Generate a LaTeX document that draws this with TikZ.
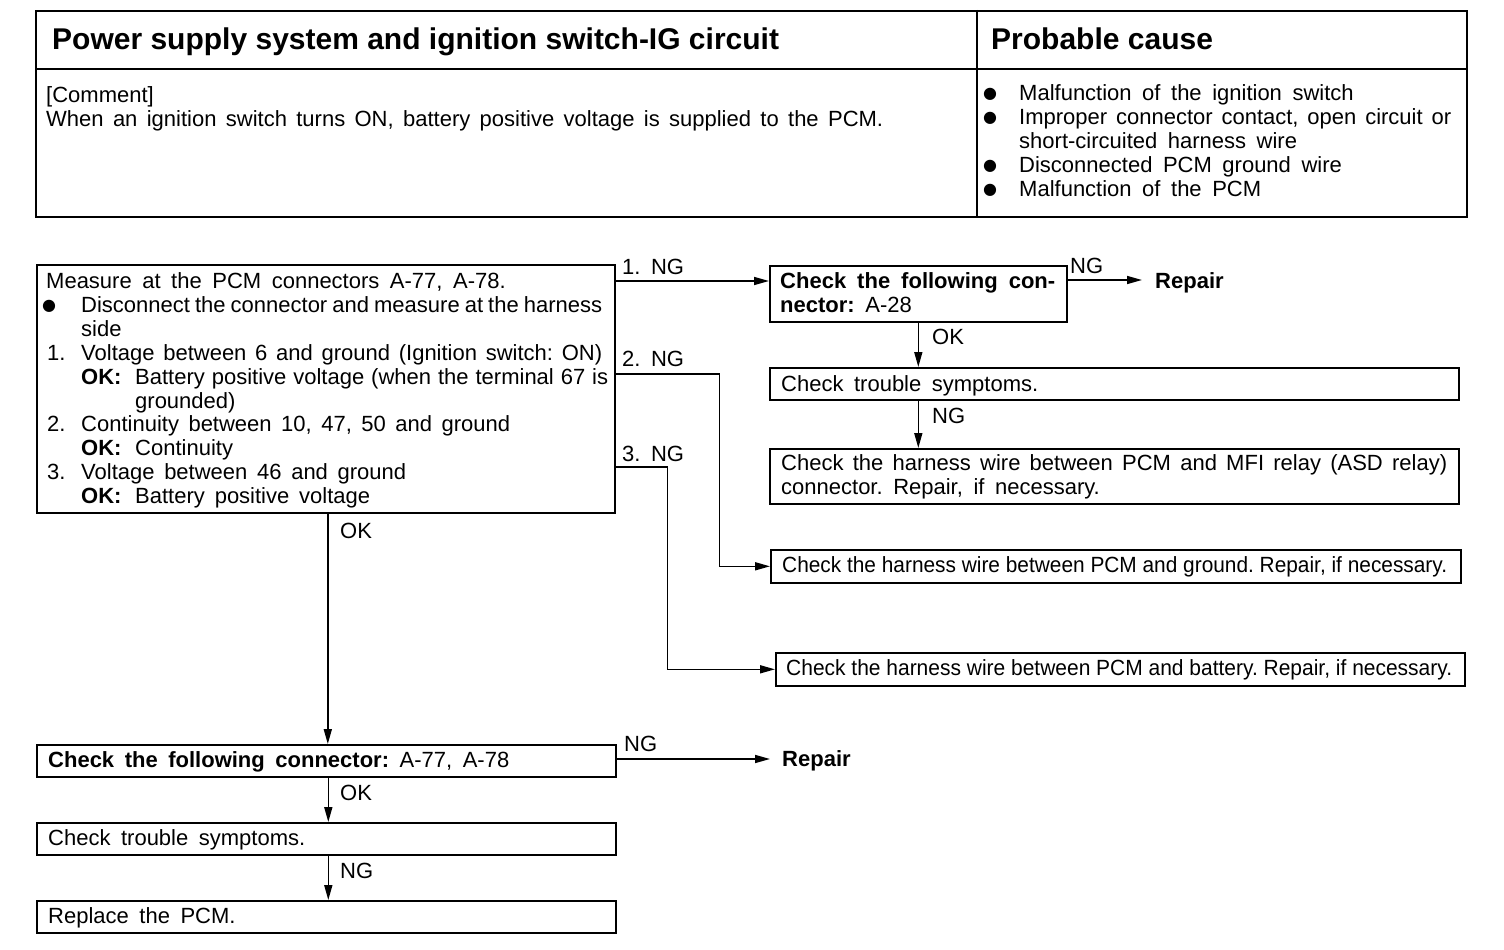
\documentclass[tikz,border=0pt]{standalone}
\usepackage{fontspec}
\setmainfont{Liberation Sans}
\newfontfamily\dejavu{DejaVu Sans}
\usetikzlibrary{arrows.meta,calc}
\frenchspacing
\newcommand{\jw}[2]{\makebox[#1pt][s]{\spaceskip=0.2em plus 3em\relax #2}}
\newcommand{\fw}[2]{\resizebox{#1pt}{\height}{\spaceskip=0pt\relax #2}}
\newcommand{\blt}{\raisebox{1.5pt}{\dejavu\fontsize{16}{16}\selectfont ●}}
\newcommand{\widesp}{\spaceskip=0.48em plus 0.4em minus 0.15em\relax}
\begin{document}
\begin{tikzpicture}[x=1pt,y=-1pt,
  box/.style={draw, line width=1.6pt, inner sep=0pt, anchor=north west},
  txt/.style={anchor=base west, inner sep=0pt, font=\fontsize{22}{24}\selectfont\widesp},
  btxt/.style={txt, font=\fontsize{22}{24}\selectfont\bfseries\widesp},
  ttl/.style={anchor=base west, inner sep=0pt, font=\fontsize{30}{32}\selectfont\bfseries},
  arr/.style={line width=1.6pt, -{Triangle[length=15pt,width=8pt]}},
  ln/.style={line width=1.6pt}]
\useasboundingbox (0,0) rectangle (1504,950);
\fill[white] (0,0) rectangle (1504,950);

% ---------- header table ----------
\node[box, line width=2.2pt, minimum width=1431pt, minimum height=206pt] (tab) at (35,10) {};
\draw[ln] (35,69) -- (1466,69);
\draw[ln] (977,10) -- (977,216);
\node[ttl] (title) at (52,50) {Power supply system and ignition switch-IG circuit};
\node[ttl] (pcause) at (991,50) {Probable cause};
\node[txt] (cm1) at (46,102) {{[}Comment{]}};
\node[txt] (cm2) at (46,126) {\jw{837}{When an ignition switch turns ON, battery positive voltage is supplied to the PCM.}};
\node[txt] (pc1) at (983,100) {\makebox[36pt][l]{\blt}Malfunction of the ignition switch};
\node[txt] (pc2) at (983,124) {\makebox[36pt][l]{\blt}\jw{432}{Improper connector contact, open circuit or}};
\node[txt] (pc3) at (1019,148) {short-circuited harness wire};
\node[txt] (pc4) at (983,172) {\makebox[36pt][l]{\blt}Disconnected PCM ground wire};
\node[txt] (pc5) at (983,196) {\makebox[36pt][l]{\blt}Malfunction of the PCM};

% ---------- boxes ----------
\node[box, minimum width=578pt, minimum height=248pt] (m) at (36,264) {};
\node[box, minimum width=297pt, minimum height=56pt] (a28) at (769,265) {};
\node[box, minimum width=689pt, minimum height=32pt] (ts) at (769,367) {};
\node[box, minimum width=689pt, minimum height=55pt] (mfi) at (769,448) {};
\node[box, minimum width=690pt, minimum height=33pt] (gb) at (770,549) {};
\node[box, minimum width=689pt, minimum height=33pt] (bb) at (775,652) {};
\node[box, minimum width=579pt, minimum height=32pt] (c1) at (36,744) {};
\node[box, minimum width=579pt, minimum height=32pt] (t2) at (36,822) {};
\node[box, minimum width=579pt, minimum height=32pt] (rp) at (36,900) {};

% main box text
\node[txt] (m1) at (46,288) {Measure at the PCM connectors A-77, A-78.};
\node[txt] (m2) at (42,312) {\makebox[39pt][l]{\blt}\jw{521}{Disconnect the connector and measure at the harness}};
\node[txt] (m3) at (81,336) {side};
\node[txt] (m4) at (47,360) {\makebox[34pt][l]{1.}\jw{521}{Voltage between 6 and ground (Ignition switch: ON)}};
\node[txt] (m5) at (81,384) {\makebox[54pt][l]{\bfseries OK:}\jw{473}{Battery positive voltage (when the terminal 67 is}};
\node[txt] (m6) at (135,408) {grounded)};
\node[txt] (m7) at (47,431) {\makebox[34pt][l]{2.}\jw{429}{Continuity between 10, 47, 50 and ground}};
\node[txt] (m8) at (81,455) {\makebox[54pt][l]{\bfseries OK:}Continuity};
\node[txt] (m9) at (47,479) {\makebox[34pt][l]{3.}\jw{325}{Voltage between 46 and ground}};
\node[txt] (m10) at (81,503) {\makebox[54pt][l]{\bfseries OK:}\jw{235}{Battery positive voltage}};

% other box texts
\node[btxt] (a1) at (780,288) {\jw{275}{Check the following con-}};
\node[txt] (a2) at (780,312) {\textbf{nector:} A-28};
\node[txt] (ts1) at (781,391) {Check trouble symptoms.};
\node[txt] (mf1) at (781,470) {\jw{666}{Check the harness wire between PCM and MFI relay (ASD relay)}};
\node[txt] (mf2) at (781,494) {connector. Repair, if necessary.};
\node[txt] (gb1) at (782,572) {\fw{665}{Check the harness wire between PCM and ground. Repair, if necessary.}};
\node[txt] (bb1) at (786,675) {\fw{666}{Check the harness wire between PCM and battery. Repair, if necessary.}};
\node[txt] (c1t) at (48,767) {\textbf{Check the following connector:} A-77, A-78};
\node[txt] (t2t) at (48,845) {Check trouble symptoms.};
\node[txt] (rpt) at (48,923) {Replace the PCM.};

% repair targets
\node[btxt, inner xsep=13pt] (rep1) at (1142,288) {Repair};
\node[btxt, inner xsep=12pt] (rep2) at (770,766) {Repair};

% ---------- connectors ----------
\coordinate (p1) at ([yshift=-17pt]m.north east);
\coordinate (p2) at ([yshift=-110pt]m.north east);
\coordinate (p3) at ([yshift=-203pt]m.north east);
\coordinate (q1) at ([yshift=-15pt]a28.north east);
\coordinate (q2) at ([yshift=-15pt]c1.north east);

\draw[arr] (p1) -- (p1 -| a28.west);
\draw[arr] (p2) -- ++(104,0) |- (gb.west);
\draw[arr] (p3) -- ++(52,0) |- (bb.west);
\draw[arr] (q1) -- (q1 -| rep1.west);
\draw[arr] (a28.south) -- (a28.south |- ts.north);
\draw[arr] (a28.south |- ts.south) -- (a28.south |- mfi.north);
\draw[arr] ([xshift=2pt]m.south) -- ([xshift=2pt]m.south |- c1.north);
\draw[arr] (q2) -- (q2 -| rep2.west);
\draw[arr] ([xshift=2pt]c1.south) -- ([xshift=2pt]c1.south |- t2.north);
\draw[arr] ([xshift=2pt]t2.south) -- ([xshift=2pt]t2.south |- rp.north);

% connector labels
\node[txt] (l1) at (622,274) {1. NG};
\node[txt] (l2) at (622,366) {2. NG};
\node[txt] (l3) at (622,461) {3. NG};
\node[txt] (l4) at (1070,273) {NG};
\node[txt] (l5) at (932,344) {OK};
\node[txt] (l6) at (932,423) {NG};
\node[txt] (l7) at (340,538) {OK};
\node[txt] (l8) at (624,751) {NG};
\node[txt] (l9) at (340,800) {OK};
\node[txt] (l10) at (340,878) {NG};
\end{tikzpicture}
\end{document}
